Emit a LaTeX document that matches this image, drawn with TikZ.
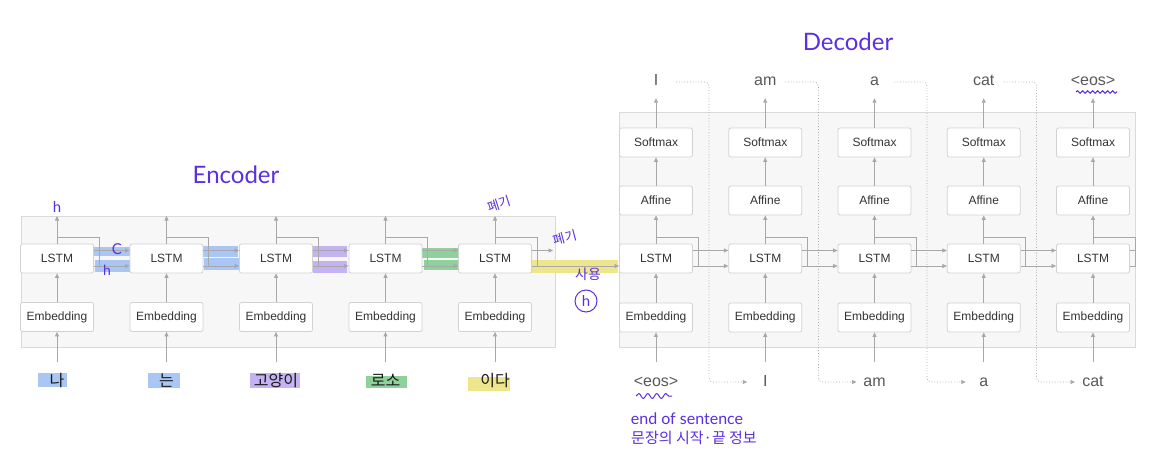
\documentclass[tikz,border=0pt]{standalone}
\usepackage{fontspec}
\setmainfont{Liberation Sans}
\newfontfamily\kr{Noto Sans CJK KR}
\newfontfamily\hand{Lato}
\usetikzlibrary{arrows.meta,decorations.pathmorphing,calc}
\definecolor{pen}{HTML}{5A30E0}
\definecolor{boxline}{HTML}{D2D2D2}
\definecolor{panelfill}{HTML}{F7F7F7}
\definecolor{panelline}{HTML}{DADADA}
\definecolor{arrgray}{HTML}{A8A8A8}
\definecolor{hlblue}{HTML}{A9C6F5}
\definecolor{hlpurple}{HTML}{C4B2F2}
\definecolor{hlgreen}{HTML}{8FD19A}
\definecolor{hlyellow}{HTML}{EEE68C}
\begin{document}
\begin{tikzpicture}[x=1pt,y=-1pt,
  panel/.style={draw=panelline,fill=panelfill,line width=0.8pt},
  blk/.style={draw=boxline,fill=white,rounded corners=2pt,line width=0.8pt,
    minimum width=73pt,minimum height=29pt,inner sep=0pt,
    font=\fontsize{12}{14}\selectfont,text=black!80},
  word/.style={inner sep=2pt,text height=11.5pt,text depth=3.5pt,
    font=\fontsize{16}{18}\selectfont,text=black!65},
  krword/.style={inner sep=2pt,text height=11.5pt,text depth=3.5pt,
    font=\kr\fontsize{16}{18}\selectfont,text=black!90},
  arr/.style={draw=arrgray,line width=0.7pt,-{Triangle[length=4.5pt,width=4pt]}},
  ln/.style={draw=arrgray,line width=0.7pt},
  dotarr/.style={draw=arrgray,line width=0.8pt,dotted,rounded corners=4pt,
    -{Triangle[length=4.5pt,width=4pt]}},
  penw/.style={text=pen,inner sep=1pt,font=\hand\fontsize{16}{18}\selectfont},
  penk/.style={text=pen,inner sep=1pt,font=\kr\fontsize{13}{15}\selectfont},
  wave/.style={draw=pen,line width=1pt,decorate,
    decoration={snake,amplitude=1.3pt,segment length=5pt}}
]
\useasboundingbox (0,0) rectangle (1156,476);
\fill[white] (0,0) rectangle (1156,476);

% panels
\draw[panel] (21,216) rectangle (555,347);
\draw[panel] (619,112) rectangle (1135,347);

% highlights (encoder words)
\fill[hlblue] (38,373) rectangle (67,387);
\fill[hlblue] (148,373) rectangle (180,388);
\fill[hlpurple] (250,373) rectangle (300,388);
\fill[hlgreen] (366,376) rectangle (407,388);
\fill[hlyellow] (468,377) rectangle (510,391);
% highlights (state arrows)
\fill[hlblue] (93,247) rectangle (130,256);
\fill[hlblue] (95,260) rectangle (133,272);
\fill[hlblue] (202,246) rectangle (238,257);
\fill[hlblue] (204,258) rectangle (239,270);
\fill[hlpurple] (313,246) rectangle (347,257);
\fill[hlpurple] (313,261) rectangle (347,273);
\fill[hlgreen] (422,248) rectangle (460,258);
\fill[hlgreen] (424,260) rectangle (462,270);
\fill[hlyellow] (530,260) rectangle (618,273);

% encoder blocks
\foreach \i/\x in {1/57,2/166.5,3/276,4/385.5,5/495}{
  \node[blk] (el\i) at (\x,258.5) {LSTM};
  \node[blk] (ee\i) at (\x,317) {Embedding};
  \coordinate (et\i) at (\x,216);
}
\node[krword] (w1) at (57,382) {나};
\node[krword] (w2) at (166.5,382) {는};
\node[krword] (w3) at (276,382) {고양이};
\node[krword] (w4) at (385.5,382) {로소};
\node[krword] (w5) at (495,382) {이다};

\foreach \i in {1,...,5}{
  \draw[arr,shorten <=10pt] (w\i.north) -- (ee\i.south);
  \draw[arr] (ee\i.north) -- (el\i.south);
  \draw[arr] (el\i.north) -- (et\i);
  \draw[ln] ($(el\i.north)+(0,-6)$) -| ($(el\i.east)+(5,7.5)$);
}
\foreach \i/\j in {1/2,2/3,3/4,4/5}{
  \draw[arr] ($(el\i.east)+(0,-8)$) -- ($(el\j.west)+(0,-8)$);
  \draw[arr] ($(el\i.east)+(0,7.5)$) -- ($(el\j.west)+(0,7.5)$);
}
\coordinate (ecend) at (553,250.5);
\draw[arr] ($(el5.east)+(0,-8)$) -- (ecend);

% decoder blocks
\foreach \i/\x in {1/656,2/765.25,3/874.5,4/983.75,5/1093}{
  \node[blk] (ds\i) at (\x,142.5) {Softmax};
  \node[blk] (da\i) at (\x,200.5) {Affine};
  \node[blk] (dl\i) at (\x,258.5) {LSTM};
  \node[blk] (de\i) at (\x,317.5) {Embedding};
}
\node[word] (o1) at (656,82) {I};
\node[word] (o2) at (765.25,82) {am};
\node[word] (o3) at (874.5,82) {a};
\node[word] (o4) at (983.75,82) {cat};
\node[word] (o5) at (1093,82) {<eos>};
\node[word] (i1) at (656,382) {<eos>};
\node[word] (i2) at (765.25,382) {I};
\node[word] (i3) at (874.5,382) {am};
\node[word] (i4) at (983.75,382) {a};
\node[word] (i5) at (1093,382) {cat};

\foreach \i in {1,...,5}{
  \draw[arr,shorten <=10.5pt] (i\i.north) -- (de\i.south);
  \draw[arr] (de\i.north) -- (dl\i.south);
  \draw[arr] (dl\i.north) -- (da\i.south);
  \draw[arr] (da\i.north) -- (ds\i.south);
  \draw[arr,shorten >=6.5pt] (ds\i.north) -- (o\i.south);
  \draw[ln] ($(dl\i.north)+(0,-6)$) -| ($(dl\i.east)+(5,7.5)$);
}
\foreach \i/\j in {1/2,2/3,3/4,4/5}{
  \draw[arr] ($(dl\i.east)+(0,-8)$) -- ($(dl\j.west)+(0,-8)$);
  \draw[arr] ($(dl\i.east)+(0,7.5)$) -- ($(dl\j.west)+(0,7.5)$);
}
\draw[ln] ($(dl5.east)+(0,-8)$) -- ++(6,0);
\draw[ln] ($(dl5.east)+(0,7.5)$) -- ++(6,0);

% encoder -> decoder hidden state
\draw[arr] ($(el5.east)+(0,7.5)$) -- ($(dl1.west)+(0,7.5)$);

% dotted feedback connectors
\foreach \i/\j/\vx in {1/2/709,2/3/818.5,3/4/927,4/5/1036.5}{
  \coordinate (v\i) at (\vx,230);
  \draw[dotarr] ($(o\i.center)+(20,0)$) -| (v\i) |- ($(i\j.center)+(-18,0)$);
}

% handwritten annotations
\node[penw,font=\hand\fontsize{24}{26}\selectfont] (hEnc) at (236,175) {Encoder};
\node[penw,font=\hand\fontsize{24}{26}\selectfont] (hDec) at (848,42) {Decoder};
\node[penw,font=\hand\fontsize{15}{17}\selectfont] (hh1) at (57,207) {h};
\node[penw,font=\hand\fontsize{15}{17}\selectfont] (hc) at (117,249) {C};
\node[penw,font=\hand\fontsize{14}{16}\selectfont] (hh2) at (107,270) {h};
\node[penk,rotate=18] (p1) at (499,204) {폐기};
\node[penk,rotate=15] (p2) at (565,238) {폐기};
\node[penk,font=\kr\fontsize{14}{16}\selectfont] (p3) at (588,274) {사용};
\node[penw,draw=pen,circle,line width=1pt,minimum size=22pt,
  font=\hand\fontsize{15}{17}\selectfont] (hh3) at (586,301) {h};
\node[penw] (eos1) at (687,419) {end of sentence};
\node[penk,font=\kr\fontsize{15}{17}\selectfont] (eos2) at (694,438) {문장의 시작·끝 정보};
\draw[wave,decoration={snake,amplitude=2.5pt,segment length=9pt}] (636,396) -- (672,396);
\draw[wave] (1076,92) -- (1117,92);
\end{tikzpicture}
\end{document}
